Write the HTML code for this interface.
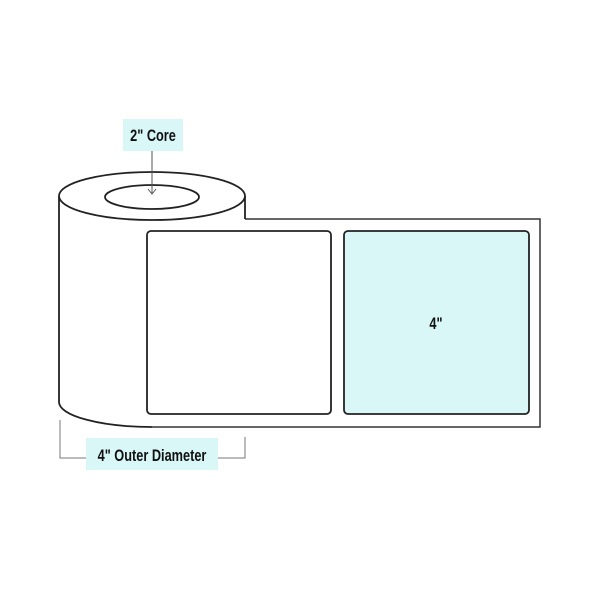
<!DOCTYPE html>
<html><head><style>body{margin:0;background:#fff}svg{display:block}text{font-family:"Liberation Sans",sans-serif;font-weight:bold;fill:#111}</style></head>
<body>
<svg width="600" height="600" viewBox="0 0 600 600" xmlns="http://www.w3.org/2000/svg">
<rect width="600" height="600" fill="#fff"/>
<!-- roll body -->
<path d="M59 196 V402 A93 25 0 0 0 152 427 H245 V196" fill="#fff" stroke="none"/>
<!-- strip -->
<path d="M245 219 H540 V427 H152" fill="none" stroke="#333" stroke-width="1.5"/>
<path d="M59 196 V402 A93 25 0 0 0 152 427" fill="none" stroke="#222" stroke-width="1.8"/>
<line x1="245" y1="196" x2="245" y2="219" stroke="#222" stroke-width="1.8"/>
<ellipse cx="152" cy="196" rx="93" ry="24" fill="#fff" stroke="#222" stroke-width="1.8"/>
<ellipse cx="152" cy="197" rx="47" ry="12" fill="#fff" stroke="#222" stroke-width="1.8"/>
<!-- labels -->
<rect x="147" y="231" width="184" height="183" rx="4" fill="#fff" stroke="#222" stroke-width="1.8"/>
<rect x="344" y="231" width="185" height="183" rx="4" fill="#d9f7f7" stroke="#222" stroke-width="1.8"/>
<text transform="translate(436 329) scale(0.75 1)" font-size="17" text-anchor="middle">4"</text>
<!-- core label -->
<line x1="152" y1="151" x2="152" y2="194" stroke="#555" stroke-width="1"/>
<path d="M148 189 L152 194 L156 189" fill="none" stroke="#555" stroke-width="1"/>
<rect x="123" y="119" width="60" height="32" fill="#d9f7f7"/>
<text transform="translate(153 141) scale(0.75 1)" font-size="17" text-anchor="middle">2" Core</text>
<!-- diameter -->
<path d="M60 420 V458 H86 M218 458 H245 V437" fill="none" stroke="#777" stroke-width="1"/>
<rect x="86" y="438" width="132" height="32" fill="#d9f7f7"/>
<text transform="translate(152 461) scale(0.75 1)" font-size="17" text-anchor="middle">4" Outer Diameter</text>
</svg>
</body></html>
